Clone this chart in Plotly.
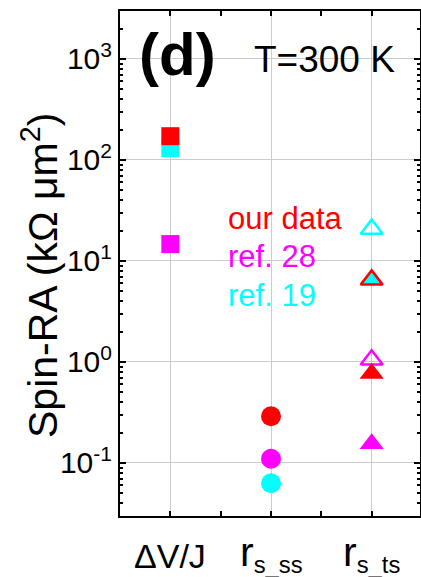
import plotly.graph_objects as go

categories = ["ΔV/J", "r_s_ss", "r_s_ts"]
cat_pos = [1, 2, 3]
tick_text = ["ΔV/J",
             "<span style='font-size:41px'>r</span><sub>s_ss</sub>",
             "<span style='font-size:41px'>r</span><sub>s_ts</sub>"]

y_tickvals = [0.1, 1, 10, 100, 1000]
y_ticktext = ["10<sup>-1</sup>", "10<sup>0</sup>", "10<sup>1</sup>", "10<sup>2</sup>", "10<sup>3</sup>"]

# values (kΩ µm²): [ΔV/J, r_s_ss, r_s_ts (open), r_s_ts (filled)]
our_data = [172, 0.29, 6.5, 0.77]
ref28 = [14.7, 0.11, 1.05, 0.155]
ref19 = [131, 0.063, 20.7, 6.5]

series = [("ref. 19", ref19, "#00ffff"),
          ("ref. 28", ref28, "#ff00ff"),
          ("our data", our_data, "#ff0000")]

fig = go.Figure()
for name, vals, col in series:
    fig.add_trace(go.Scatter(x=[cat_pos[0]], y=[vals[0]], mode="markers",
                             marker=dict(symbol="square", size=18, color=col, line=dict(width=0)),
                             showlegend=False, name=name))
    fig.add_trace(go.Scatter(x=[cat_pos[1]], y=[vals[1]], mode="markers",
                             marker=dict(symbol="circle", size=20, color=col, line=dict(width=0)),
                             showlegend=False, name=name))
    fig.add_trace(go.Scatter(x=[cat_pos[2]], y=[vals[3]], mode="markers",
                             marker=dict(symbol="triangle-up", size=21, color=col, line=dict(width=0)),
                             showlegend=False, name=name))
    fig.add_trace(go.Scatter(x=[cat_pos[2]], y=[vals[2]], mode="markers",
                             marker=dict(symbol="triangle-up-open", size=19, color=col,
                                         line=dict(width=2.5, color=col)),
                             showlegend=False, name=name))

font = "Liberation Sans, Arial, sans-serif"
fig.update_layout(
    width=421, height=577,
    margin=dict(l=120, r=1, t=11, b=61),
    paper_bgcolor="white", plot_bgcolor="white",
    font=dict(family=font, color="black"),
    xaxis=dict(range=[0.5, 3.48], tickmode="array", tickvals=cat_pos, showticklabels=False,
               showgrid=True, gridcolor="#cccccc", gridwidth=1,
               showline=True, linecolor="black", linewidth=2, mirror="ticks", automargin=False,
               ticks="inside", ticklen=5, tickwidth=1.5, tickcolor="black", zeroline=False,
               minor=dict(tickvals=[1.5, 2.5], ticks="inside", ticklen=5, tickcolor="black", showgrid=False)),
    yaxis=dict(type="log", range=[-1.525, 3.475], tickmode="array", tickvals=y_tickvals,
               ticktext=y_ticktext, tickfont=dict(size=30), automargin=False,
               showgrid=True, gridcolor="#cccccc", gridwidth=1,
               showline=True, linecolor="black", linewidth=2, mirror="ticks",
               ticks="inside", ticklen=6, tickwidth=1.5, tickcolor="black", zeroline=False,
               minor=dict(dtick="D1", ticks="inside", ticklen=3, tickcolor="black", showgrid=False)),
)

# category labels below the axis
for pos, txt, yc in zip(cat_pos, tick_text, [556, 553, 553]):
    fig.add_annotation(xref="x", yref="paper", x=pos, y=(516 - yc) / 505, text=txt,
                       showarrow=False, xanchor="center", yanchor="middle",
                       font=dict(size=34))

ann = [
    dict(text="<b>(d)</b>", x=(177 - 120) / 300, y=(516 - 55) / 505, font=dict(size=60)),
    dict(text="T=300 K", x=(324 - 120) / 300, y=(516 - 60) / 505, font=dict(size=37)),
    dict(text="Spin-RA (kΩ μm<sup>2</sup>)", x=(40 - 120) / 300, y=(516 - 276) / 505,
         textangle=-90, font=dict(size=41)),
]
for a in ann:
    fig.add_annotation(xref="paper", yref="paper", showarrow=False, xanchor="center",
                       yanchor="middle", **a)

for name, col, yc in [("our data", "#ff0000", 218), ("ref. 28", "#ff00ff", 256), ("ref. 19", "#00ffff", 295)]:
    fig.add_annotation(xref="paper", yref="paper", showarrow=False, xanchor="left", yanchor="middle",
                       x=(226 - 120) / 300, y=(516 - yc) / 505, text=name,
                       font=dict(size=31, color=col))

fig.write_html("out.html", config={"displayModeBar": False},
               post_script="document.body.style.margin='0';")
